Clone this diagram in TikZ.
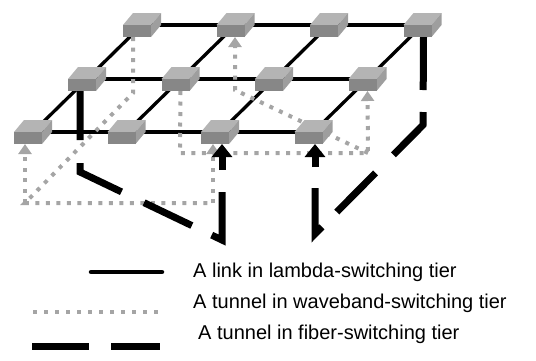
\documentclass[tikz,border=0pt]{standalone}
\usepackage{fontspec}
\setmainfont{Liberation Sans}
\usetikzlibrary{arrows.meta}
\definecolor{topc}{RGB}{180,180,180}
\definecolor{frontc}{RGB}{135,135,135}
\definecolor{sidec}{RGB}{158,158,158}
\definecolor{wavec}{RGB}{165,165,165}
\tikzset{
  router/.style={minimum width=38pt,minimum height=24pt,inner sep=0pt,outer sep=0pt},
  lam/.style={line width=3.3pt,black},
  wave/.style={line width=4pt,wavec,dash pattern=on 4pt off 6.5pt},
  garrow/.style={-{Triangle[width=13pt,length=10pt]}},
  fiber/.style={line width=7pt,black},
  barrow/.style={line width=7pt,black,-{Triangle[width=20pt,length=13pt]}},
  legtext/.style={anchor=base west,inner sep=0pt,font=\fontsize{20}{24}\selectfont},
}
\begin{document}
\begin{tikzpicture}[x=1pt,y=-1pt]
\useasboundingbox (0,0) rectangle (536,360);
% nodes (switches)
\foreach \j in {1,2,3,4}{
  \node[router] (b\j) at ({142+93.5*(\j-1)},25) {};
  \node[router] (m\j) at ({87+93.5*(\j-1)},79) {};
  \node[router] (f\j) at ({33+93.5*(\j-1)},132) {};
}
% lambda links
\draw[lam] (b1.center) -- (b2.center) -- (b3.center) -- (b4.center);
\draw[lam] (m1.center) -- (m2.center) -- (m3.center) -- (m4.center);
\draw[lam] (f1.center) -- (f2.center) -- (f3.center) -- (f4.center);
\foreach \j in {1,2,3,4}{
  \draw[lam] (b\j.center) -- (m\j.center) -- (f\j.center);
}
% waveband tunnels
\coordinate (wa) at (133,93);
\coordinate (wc) at (25,203);
\coordinate (wd) at (213,203);
\coordinate (we) at (235,90);
\coordinate (wf) at (368,153);
\coordinate (wg) at (180,153);
\draw[wave] ([xshift=-9pt]b1.south) -- (wa) -- (wc) -- (wd);
\draw[wave,garrow] (wc) -- ([xshift=-8pt]f1.south);
\draw[wave,garrow] (wd) -- ([xshift=-7pt]f3.south);
\draw[wave,garrow] (wf) -- (we) -- ([xshift=-0.5pt]b2.south);
\draw[wave,garrow] (m2.south) -- (wg) -- (wf) -- (m4.south);
% fiber tunnels
\coordinate (fa) at (80,172);
\coordinate (fb) at (222,240);
\coordinate (fc) at (222,192);
\coordinate (fd) at (222,170);
\draw[fiber,dash pattern=on 49pt off 23pt on 55pt off 25pt on 53pt off 22pt on 70pt off 40pt]
  ([xshift=-7pt]m1.south) -- (fa) -- (fb) -- (fc);
\coordinate (ga) at (423,125);
\coordinate (gb) at (315,234);
\coordinate (gc) at (315,188);
\coordinate (gd) at (315,167);
\draw[fiber,dash pattern=on 53pt off 22pt on 55pt off 25.5pt on 55pt off 21pt on 70pt off 40pt]
  ([xshift=1pt]b4.south) -- (ga) -- (gb) -- (gc);
% switch boxes
\foreach \n in {b1,b2,b3,b4,m1,m2,m3,m4,f1,f2,f3,f4}{
  \begin{scope}[shift={(\n.center)}]
    \fill[topc] (-19,0) -- (9,0) -- (19,-12) -- (-9,-12) -- cycle;
    \fill[sidec] (9,0) -- (19,-12) -- (19,0) -- (9,12) -- cycle;
    \fill[frontc] (-19,0) rectangle (9,12);
  \end{scope}
}
% black arrows into front switches
\draw[barrow] (fd) -- ([xshift=2pt]f3.south);
\draw[barrow] (gd) -- ([xshift=1.5pt]f4.south);
% legend
\coordinate (l1a) at (91,272); \coordinate (l1b) at (162,272);
\coordinate (l2a) at (33,312); \coordinate (l2b) at (158,312);
\coordinate (l3a) at (32,346); \coordinate (l3b) at (160,346);
\draw[lam,line width=4.5pt,line cap=round] (l1a) -- (l1b);
\draw[wave,dash pattern=on 4pt off 7pt] (l2a) -- (l2b);
\draw[fiber,dash pattern=on 57pt off 22pt] (l3a) -- (l3b);
\node[legtext] (t1) at (193,277) {A link in lambda-switching tier};
\node[legtext] (t2) at (193,308) {A tunnel in waveband-switching tier};
\node[legtext] (t3) at (198,339) {A tunnel in fiber-switching tier};
\end{tikzpicture}
\end{document}
